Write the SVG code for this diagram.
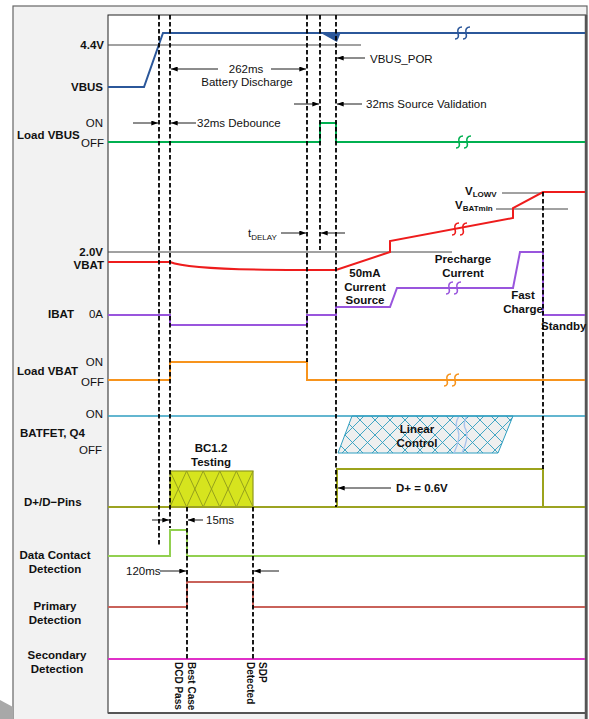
<svg xmlns="http://www.w3.org/2000/svg" width="589" height="719" viewBox="0 0 589 719">
<defs>
<style>
text{font-family:"Liberation Sans",Arial,sans-serif;font-size:11.5px;fill:#111}
.b{font-weight:bold}
.m{text-anchor:middle}
.e{text-anchor:end}
.sig{fill:none;stroke-width:2}
.dash{stroke:#000;stroke-width:1.8;stroke-dasharray:4.5 2.5;fill:none}
.ann{stroke:#000;stroke-width:0.9;fill:none;marker-end:url(#ah)}
.ref{stroke:#444;stroke-width:1;fill:none}
.brk{fill:none;stroke-width:1.6}
.sub{font-size:8px}
.rot{font-size:10px;font-weight:bold}
</style>
<marker id="ah" viewBox="0 0 8 6" refX="8" refY="3" markerWidth="7" markerHeight="5" markerUnits="userSpaceOnUse" orient="auto"><path d="M0,0 L8,3 L0,6 z" fill="#000"/></marker>
<path id="brk" d="M-11,6 c3,0 4,-2 3,-6 c-1,-4 1,-6 4,-6 M-3,6 c3,0 4,-2 3,-6 c-1,-4 1,-6 4,-6"/>
<pattern id="xh" width="15" height="15" patternUnits="userSpaceOnUse"><path d="M0,0 L15,15 M15,0 L0,15" stroke="#2f9ec0" stroke-width="0.9"/></pattern>
</defs>

<g id="frame">
<rect x="13" y="6" width="574" height="720" fill="#f2f2f2" stroke="#666" stroke-width="1.2"/>
<rect x="108" y="15" width="478" height="698" fill="#fff" stroke="#222" stroke-width="1"/>
<line x1="586" y1="15" x2="586" y2="719" stroke="#555" stroke-width="2.5"/>
<line x1="108" y1="713" x2="586" y2="713" stroke="#555" stroke-width="2"/>
<polygon points="0,700 13,707 13,719 0,719" fill="#a8a8a8"/>
</g>

<g id="vbus">
<line class="ref" x1="108" y1="45" x2="361" y2="45"/>
<path class="sig" stroke="#2b579a" d="M108,87 L144,87 L163,33 L585,33"/>
<use href="#brk" x="466" y="33" class="brk" stroke="#2b579a"/>
<polygon points="319,32 341,32 337,42" fill="#2b579a"/>
<text class="b e" x="104" y="49">4.4V</text>
<text class="b e" x="103" y="91">VBUS</text>
</g>

<g id="load-vbus">
<path class="sig" stroke="#00b050" d="M108,142 L320,142 L320,123 L336,123 L336,142 L585,142"/>
<use href="#brk" x="467" y="142" class="brk" stroke="#00b050"/>
<text class="e" x="103" y="127">ON</text>
<text class="b" x="17" y="139">Load VBUS</text>
<text class="e" x="104" y="147">OFF</text>
</g>

<g id="vbat">
<line class="ref" x1="108" y1="252" x2="452" y2="252"/>
<line class="ref" x1="502" y1="193" x2="543" y2="193"/>
<line class="ref" x1="496" y1="209" x2="568" y2="209"/>
<path class="sig" stroke="#ee1c1c" d="M108,262 L170,262 C182,267 220,270 300,270 L336,270 L390,252 L390,241 L513,218 L513,208 L543,192 L585,192"/>
<use href="#brk" x="463" y="229" class="brk" stroke="#ee1c1c"/>
<text class="b e" x="103" y="256">2.0V</text>
<text class="b e" x="104" y="269">VBAT</text>
<text class="b" x="465" y="195">V<tspan class="sub" dy="2">LOWV</tspan></text>
<text class="b" x="455" y="209">V<tspan class="sub" dy="2">BATmin</tspan></text>
<text x="248" y="237">t<tspan class="sub" dy="3">DELAY</tspan></text>
<text class="b m" x="365" y="277">50mA</text>
<text class="b m" x="365" y="291">Current</text>
<text class="b m" x="365" y="304">Source</text>
<text class="b m" x="463" y="263">Precharge</text>
<text class="b m" x="463" y="277">Current</text>
</g>

<g id="ibat">
<path class="sig" stroke="#9955dd" d="M108,315 L170,315 L170,325 L307,325 L307,315 L336,315 L336,307 L390,307 L397,288 L513,288 L520,252 L543,252 L543,315 L585,315"/>
<use href="#brk" x="457" y="288" class="brk" stroke="#9955dd"/>
<text class="b" x="48" y="318">IBAT</text>
<text class="e" x="103" y="318">0A</text>
<text class="b m" x="523" y="299">Fast</text>
<text class="b m" x="523" y="313">Charge</text>
<text class="b" x="541" y="330">Standby</text>
</g>

<g id="load-vbat">
<path class="sig" stroke="#f7941d" d="M108,380 L170,380 L170,362 L307,362 L307,380 L585,380"/>
<use href="#brk" x="455" y="380" class="brk" stroke="#f7941d"/>
<text class="e" x="103" y="366">ON</text>
<text class="b" x="17" y="375">Load VBAT</text>
<text class="e" x="104" y="386">OFF</text>
</g>

<g id="batfet">
<polygon points="352,416 513,416 498,453 338,453" fill="#efefef"/>
<polygon points="352,416 513,416 498,453 338,453" fill="url(#xh)" stroke="#2f9ec0" stroke-width="1"/>
<path d="M459,416 q-5,8 -1,14 q3,8 -4,23 M467,416 q-5,8 -1,14 q3,8 -4,23" fill="none" stroke="#a9c4ec" stroke-width="1.4"/>
<line x1="108" y1="416" x2="585" y2="416" stroke="#2f9ec0" stroke-width="1.6"/>
<text class="e" x="103" y="418">ON</text>
<text class="b" x="20" y="437">BATFET, Q4</text>
<text class="e" x="102" y="454">OFF</text>
<text class="b m" x="417" y="433">Linear</text>
<text class="b m" x="417" y="447">Control</text>
</g>

<g id="dpins">
<rect x="170" y="471" width="83" height="36" fill="#d6e41e" stroke="#8f9a1c" stroke-width="1.2"/>
<path d="M170,471 L186.6,507 M186.6,471 L170,507 M186.6,471 L203.2,507 M203.2,471 L186.6,507 M203.2,471 L219.8,507 M219.8,471 L203.2,507 M219.8,471 L236.4,507 M236.4,471 L219.8,507 M236.4,471 L253,507 M253,471 L236.4,507" fill="none" stroke="#8f9a1c" stroke-width="0.9"/>
<rect x="337" y="469" width="206" height="38" fill="none" stroke="#9ca31c" stroke-width="2"/>
<line x1="108" y1="507" x2="585" y2="507" stroke="#9ca321" stroke-width="2"/>
<text class="b" x="24" y="506">D+/D−Pins</text>
<text class="b m" x="211" y="452">BC1.2</text>
<text class="b m" x="211" y="466">Testing</text>
<text class="b" x="396" y="492">D+ = 0.6V</text>
</g>

<g id="dcd">
<path class="sig" stroke="#92d050" d="M108,556 L170,556 L170,530 L187,530 L187,556 L585,556"/>
<text class="b m" x="55" y="559">Data Contact</text>
<text class="b m" x="55" y="573">Detection</text>
<text x="126" y="575">120ms</text>
<text x="206" y="524">15ms</text>
</g>

<g id="primary">
<path class="sig" stroke="#c9625a" d="M108,607 L187,607 L187,582 L253,582 L253,607 L585,607"/>
<text class="b m" x="55" y="610">Primary</text>
<text class="b m" x="55" y="624">Detection</text>
</g>

<g id="secondary">
<line x1="108" y1="659" x2="585" y2="659" stroke="#e030c8" stroke-width="2"/>
<text class="b m" x="57" y="659">Secondary</text>
<text class="b m" x="57" y="673">Detection</text>
<text class="rot" transform="translate(188,662) rotate(90)">Best Case</text>
<text class="rot" transform="translate(175,662) rotate(90)">DCD Pass</text>
<text class="rot" transform="translate(259,662) rotate(90)">SDP</text>
<text class="rot" transform="translate(247,662) rotate(90)">Detected</text>
</g>

<g id="connectors">
<line class="dash" x1="159" y1="15" x2="159" y2="545"/>
<line class="dash" x1="170" y1="15" x2="170" y2="528"/>
<line class="dash" x1="307" y1="15" x2="307" y2="362"/>
<line class="dash" x1="320" y1="15" x2="320" y2="250"/>
<line class="dash" x1="336" y1="15" x2="336" y2="507"/>
<line class="dash" x1="543" y1="192" x2="543" y2="469"/>
<line class="dash" x1="187" y1="507" x2="187" y2="660"/>
<line class="dash" x1="253" y1="507" x2="253" y2="660"/>

<line class="ann" x1="133" y1="123" x2="158" y2="123"/>
<line class="ann" x1="196" y1="123" x2="171" y2="123"/>
<line class="ann" x1="218" y1="69" x2="171" y2="69"/>
<line class="ann" x1="271" y1="69" x2="306" y2="69"/>
<line class="ann" x1="365" y1="58" x2="337" y2="58"/>
<line class="ann" x1="294" y1="104" x2="319" y2="104"/>
<line class="ann" x1="362" y1="104" x2="337" y2="104"/>
<line class="ann" x1="281" y1="233" x2="306" y2="233"/>
<line class="ann" x1="345" y1="233" x2="321" y2="233"/>
<line class="ann" x1="391" y1="488" x2="338" y2="488"/>
<line class="ann" x1="152" y1="520" x2="169" y2="520"/>
<line class="ann" x1="203" y1="520" x2="188" y2="520"/>
<line class="ann" x1="160" y1="571" x2="186" y2="571"/>
<line class="ann" x1="279" y1="571" x2="254" y2="571"/>

<text x="246" y="73" class="m">262ms</text>
<text x="247" y="86" class="m">Battery Discharge</text>
<text x="197" y="127">32ms Debounce</text>
<text x="370" y="63">VBUS_POR</text>
<text x="366" y="108">32ms Source Validation</text>
</g>
</svg>
